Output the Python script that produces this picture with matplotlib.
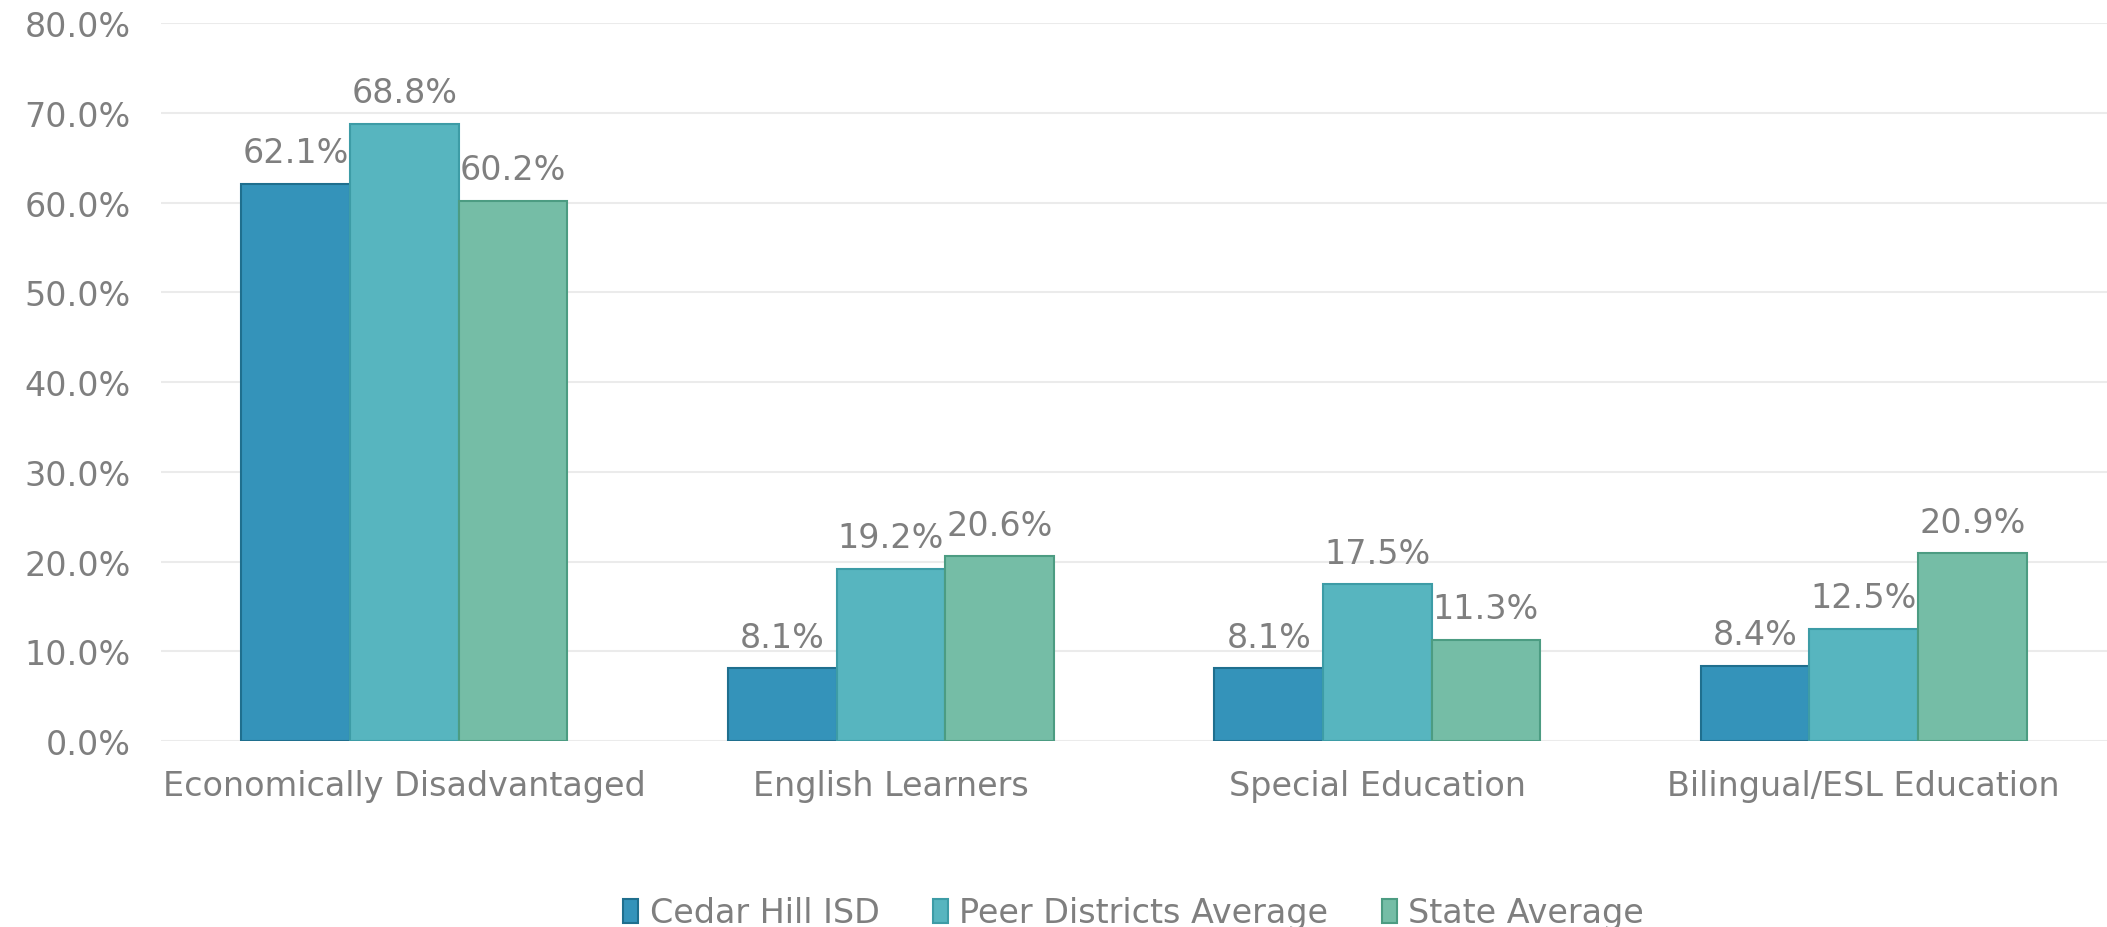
import numpy as np
import matplotlib.pyplot as plt

plt.rcParams['font.family'] = ['DejaVu Sans']

categories = ["Economically Disadvantaged", "English Learners", "Special Education", "Bilingual/ESL Education"]
series = ["Cedar Hill ISD", "Peer Districts Average", "State Average"]
cedar = [62.1, 8.1, 8.1, 8.4]
peer = [68.8, 19.2, 17.5, 12.5]
state = [60.2, 20.6, 11.3, 20.9]

colors = ["#3493BA", "#57B5BF", "#75BDA6"]
edges = ["#1F6F8E", "#3D9CA6", "#4C9C82"]
grey = "#7F7F7F"

fig = plt.figure(figsize=(21.07, 9.28), dpi=100)
ax = fig.add_axes([0.0765, 0.2004, 0.9235, 0.7736])

x = np.arange(len(categories))
w = 0.2233
for i, vals in enumerate([cedar, peer, state]):
    pos = x + (i - 1) * w
    ax.bar(pos, vals, width=w, color=colors[i], edgecolor=edges[i], linewidth=1.5,
           label=series[i], zorder=3)
    for p, v in zip(pos, vals):
        ax.text(p, v + 1.6, f"{v:.1f}%", ha="center", va="bottom", fontsize=24, color=grey)

ax.set_xlim(-0.5, 3.5)
ax.set_ylim(0, 80)
ax.set_yticks(np.arange(0, 81, 10))
ax.set_yticklabels([f"{t:.1f}%" for t in np.arange(0, 81, 10)])
ax.set_xticks(x)
ax.set_xticklabels(categories)
ax.tick_params(axis="both", length=0, labelsize=24, labelcolor=grey)
ax.tick_params(axis="x", pad=20)
ax.tick_params(axis="y", pad=22)
ax.grid(axis="y", color="#EBEBEB", linewidth=1.5, zorder=0)
for s in ax.spines.values():
    s.set_visible(False)

leg = fig.legend(loc="lower center", bbox_to_anchor=(0.538, -0.035), ncol=3, frameon=False,
                 fontsize=24, handlelength=0.45, handleheight=0.75, handletextpad=0.35,
                 columnspacing=1.6)
for t in leg.get_texts():
    t.set_color(grey)

fig.savefig("out.png", dpi=100)
